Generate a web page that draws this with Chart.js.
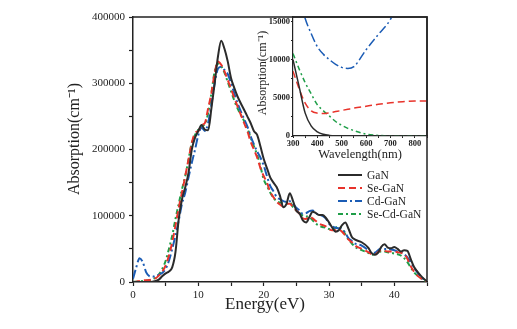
<!DOCTYPE html>
<html>
<head>
<meta charset="utf-8">
<script src="https://cdn.jsdelivr.net/npm/chart.js@4.4.1/dist/chart.umd.min.js"></script>
<style>
  body { margin: 0; background: #fff; }
  #wrap { position: relative; width: 517px; height: 329px; }
  #mainChart { position: absolute; left: 0; top: 0; }
  #insetChart { position: absolute; left: 240px; top: 0; }
</style>
</head>
<body>
<div id="wrap">
  <canvas id="mainChart" width="517" height="329"></canvas>
  <canvas id="insetChart" width="200" height="170"></canvas>
</div>
<script>
const energy = [0,0.5,1,1.5,2,2.5,3,3.5,4,4.5,5,5.5,6,6.5,7,7.5,8,8.5,9,9.5,10,10.5,11,11.5,12,12.5,13,13.5,14,14.5,15,15.5,16,
  17,17.5,18,18.5,19,19.5,20,20.5,21,21.5,22,22.5,23,23.5,24,24.5,25,25.5,26,26.5,27,27.5,28,28.5,29,29.5,30,30.5,31,31.5,32,32.5,33,33.5,34,
  35,36,36.5,37,37.5,38,38.5,39,39.5,40,40.5,41,41.5,42,42.5,43,43.5,44,44.5,45];

const gan = [0,0,0,0,0,0,500,1500,4000,9000,13000,16000,22000,45000,95000,125000,143000,165000,200000,218000,228000,237000,230000,229000,262000,300000,340000,364000,352000,333000,308000,293000,280000,
  260000,250000,240000,228000,222000,205000,186000,172000,158000,150000,143000,130000,113000,118000,134000,122000,108000,103000,93000,90000,98000,106000,104000,101000,101000,97000,90000,82000,76000,78000,86000,90000,80000,68000,64000,
  60000,52000,44000,41000,44000,53000,57000,52000,51000,53000,50000,46000,48000,47000,35000,23000,16000,10000,5000,1000];

const seGan = [0,500,1500,2500,2500,3000,4000,6000,10000,16000,25000,40000,60000,85000,112000,135000,160000,185000,210000,225000,228000,237000,240000,262000,285000,315000,333000,328000,318000,305000,292000,278000,265000,
  240000,228000,212000,200000,188000,172000,160000,150000,136000,128000,121000,117000,114000,118000,118000,113000,108000,103000,96000,95000,99000,96000,92000,88000,86000,84000,80000,78000,78000,79000,76000,70000,64000,60000,55000,
  50000,45000,42000,41000,45000,48000,47000,46000,46000,46000,45000,44000,42000,35000,24000,16000,10000,6000,3000,0];

const cdGan = [5000,22000,36000,30000,15000,9000,8000,9500,11000,14000,20000,32000,50000,70000,93000,118000,135000,158000,180000,200000,222000,233000,228000,240000,268000,300000,322000,325000,320000,314000,300000,285000,270000,
  246000,235000,220000,208000,197000,188000,176000,160000,145000,137000,128000,125000,122000,121000,122000,118000,112000,108000,103000,104000,107000,108000,104000,101000,100000,96000,88000,84000,82000,81000,80000,74000,66000,62000,58000,
  55000,48000,44000,44000,48000,51000,50000,50000,49000,48000,46000,45000,42000,37000,30000,22000,15000,9000,4000,0];

const seCdGan = [0,500,1000,1500,2000,2500,4000,7000,12000,20000,32000,50000,70000,95000,118000,140000,160000,185000,210000,222000,230000,236000,238000,255000,285000,318000,330000,326000,316000,302000,288000,274000,262000,
  243000,232000,218000,205000,192000,175000,155000,145000,135000,127000,122000,120000,119000,120000,120000,113000,108000,104000,100000,99000,98000,93000,88000,85000,83000,82000,80000,79000,82000,84000,80000,72000,64000,58000,53000,
  48000,44000,41000,42000,45000,46000,46000,45000,44000,43000,42000,40000,36000,30000,22000,15000,10000,6000,3000,0];

const wavelength = [300,325,350,375,400,425,450,475,500,525,550,600,650,700,750,800,850];
const insetGan = [10000,6500,3000,1300,550,220,80,20,0,0,0,0,0,0,0,0,0];
const insetSeGan = [8500,6200,4300,3300,3000,2950,3050,3200,3350,3500,3650,3900,4150,4350,4500,4600,4600];
const insetCdGan = [22000,18500,15400,13400,11700,10700,10000,9400,9000,8850,9100,11300,13300,15300,19000,23000,28000];
const insetSeCdGan = [10800,8800,7000,5500,4100,3300,2600,1900,1400,1000,700,250,80,0,0,0,0];

// tick positions; labels only on the major ones
const insetYTicks = [0, 2500, 5000, 7500, 10000, 12500, 15000];
const insetYLabels = ['0', '', '5000', '', '10000', '', '15000'];

const seriesNames = ['GaN', 'Se-GaN', 'Cd-GaN', 'Se-Cd-GaN'];
const colors = ['#2b2b2b', '#e8332b', '#1b5cb5', '#1f9e48'];
const dashes = [[], [7, 4], [9, 3, 2, 3], [5, 3, 2, 3]];

const serif = "'Liberation Serif', 'Times New Roman', serif";
const ink = '#222';

function pts(xs, ys) {
  return xs.map((x, i) => ({x: x, y: ys[i]}));
}

function makeSets(xs, lists, width) {
  return lists.map((ys, i) => ({
    label: seriesNames[i],
    data: pts(xs, ys),
    borderColor: colors[i],
    borderDash: dashes[i],
    borderWidth: width,
    pointRadius: 0,
    fill: false,
    cubicInterpolationMode: 'monotone'
  }));
}

// only label ticks that sit on a multiple of step
function every(step) {
  return v => (Math.abs(v / step - Math.round(v / step)) < 1e-6 ? String(Math.round(v)) : '');
}

// top and right edges of the plot box
const boxPlugin = {
  id: 'box',
  afterDraw(chart) {
    const {ctx, chartArea: a} = chart;
    ctx.save();
    ctx.strokeStyle = ink;
    ctx.lineWidth = 1.5;
    ctx.beginPath();
    ctx.moveTo(a.left, a.top);
    ctx.lineTo(a.right, a.top);
    ctx.lineTo(a.right, a.bottom);
    ctx.stroke();
    ctx.restore();
  }
};

// axis titles at fixed spots
const titlePlugin = {
  id: 'titles',
  afterDraw(chart, args, opts) {
    const ctx = chart.ctx;
    (opts.items || []).forEach(t => {
      ctx.save();
      ctx.fillStyle = ink;
      ctx.font = t.font;
      ctx.textAlign = 'center';
      ctx.textBaseline = 'middle';
      ctx.translate(t.x, t.y);
      if (t.rotate) ctx.rotate(-Math.PI / 2);
      ctx.fillText(t.text, 0, 0);
      ctx.restore();
    });
  }
};

// legend drawn from the datasets
const legendPlugin = {
  id: 'boxLegend',
  afterDraw(chart, args, opts) {
    if (!opts.show) return;
    const ctx = chart.ctx;
    chart.data.datasets.forEach((ds, i) => {
      const y = opts.y + i * opts.gap;
      ctx.save();
      ctx.strokeStyle = ds.borderColor;
      ctx.lineWidth = 2;
      ctx.setLineDash(ds.borderDash);
      ctx.beginPath();
      ctx.moveTo(opts.x, y);
      ctx.lineTo(opts.x + 24, y);
      ctx.stroke();
      ctx.setLineDash([]);
      ctx.fillStyle = ink;
      ctx.font = '11.5px ' + serif;
      ctx.textBaseline = 'middle';
      ctx.fillText(ds.label, opts.x + 29, y + 1);
      ctx.restore();
    });
  }
};

new Chart(document.getElementById('mainChart'), {
  type: 'line',
  data: { datasets: makeSets(energy, [gan, seGan, cdGan, seCdGan], 2) },
  plugins: [boxPlugin, titlePlugin, legendPlugin],
  options: {
    responsive: false,
    animation: false,
    layout: { padding: { top: 17, right: 90, left: 0, bottom: 0 } },
    plugins: {
      legend: { display: false },
      tooltip: { enabled: false },
      titles: {
        items: [
          { text: 'Absorption(cm\u207B\u00B9)', x: 75, y: 139, rotate: true, font: '16px ' + serif },
          { text: 'Energy(eV)', x: 265, y: 305, font: '17px ' + serif }
        ]
      },
      boxLegend: { show: true, x: 338, y: 175, gap: 13 }
    },
    scales: {
      x: {
        type: 'linear',
        min: 0,
        max: 45,
        afterFit: s => { s.height = 47; },
        border: { display: true, color: ink, width: 1.5 },
        grid: { drawOnChartArea: false, tickLength: 4, color: ink, tickWidth: 1.2 },
        ticks: {
          stepSize: 5,
          autoSkip: false,
          color: ink,
          padding: 3,
          maxRotation: 0,
          font: { family: serif, size: 11 },
          callback: every(10)
        }
      },
      y: {
        min: 0,
        max: 400000,
        afterFit: s => { s.width = 133; },
        border: { display: true, color: ink, width: 1.5 },
        grid: { drawOnChartArea: false, tickLength: 4, color: ink, tickWidth: 1.2 },
        ticks: {
          stepSize: 50000,
          autoSkip: false,
          color: ink,
          padding: 4,
          font: { family: serif, size: 11 },
          callback: every(100000)
        }
      }
    }
  }
});

new Chart(document.getElementById('insetChart'), {
  type: 'line',
  data: { datasets: makeSets(wavelength, [insetGan, insetSeGan, insetCdGan, insetSeCdGan], 1.5) },
  plugins: [boxPlugin, titlePlugin],
  options: {
    responsive: false,
    animation: false,
    layout: { padding: { top: 17, right: 13, left: 0, bottom: 0 } },
    plugins: {
      legend: { display: false },
      tooltip: { enabled: false },
      titles: {
        items: [
          { text: 'Absorption(cm\u207B\u00B9)', x: 23, y: 73, rotate: true, font: '12px ' + serif },
          { text: 'Wavelength(nm)', x: 120, y: 155, font: '12.5px ' + serif }
        ]
      }
    },
    scales: {
      x: {
        type: 'linear',
        min: 300,
        max: 850,
        afterFit: s => { s.height = 34; },
        border: { display: true, color: ink, width: 1.2 },
        grid: { drawOnChartArea: false, tickLength: 2, color: ink },
        ticks: {
          stepSize: 50,
          autoSkip: false,
          color: ink,
          padding: 1,
          maxRotation: 0,
          font: { family: serif, size: 8.5, weight: 'bold' },
          callback: every(100)
        }
      },
      y: {
        min: 0,
        max: 15600,
        afterFit: s => { s.width = 53; },
        afterBuildTicks: s => { s.ticks = insetYTicks.map(v => ({value: v})); },
        border: { display: true, color: ink, width: 1.2 },
        grid: { drawOnChartArea: false, tickLength: 2, color: ink },
        ticks: {
          autoSkip: false,
          color: ink,
          padding: 1,
          font: { family: serif, size: 8.5, weight: 'bold' },
          callback: (v, i) => insetYLabels[i]
        }
      }
    }
  }
});
</script>
</body>
</html>
